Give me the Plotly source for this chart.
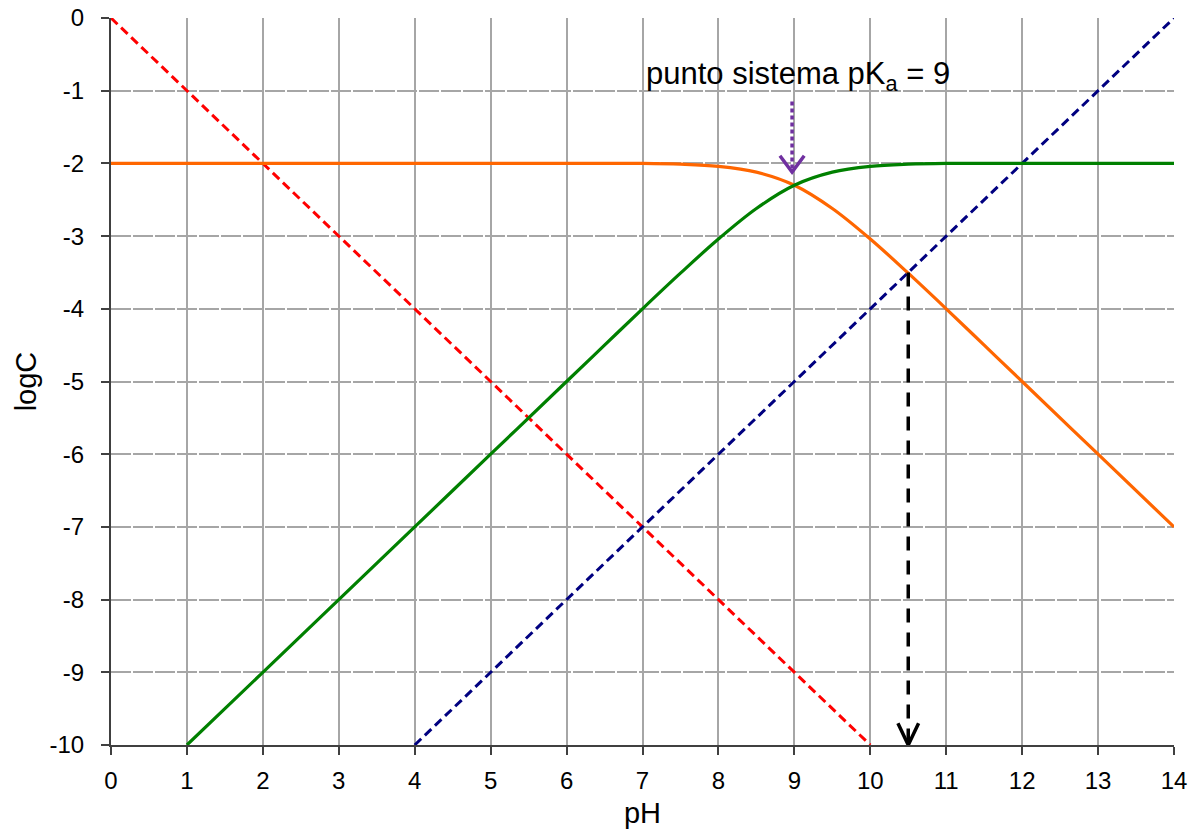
import plotly.graph_objects as go

# ---- data ----
ph_h = [0, 10]
log_h = [0, -10]

ph_oh = [4, 14]
log_oh = [-10, 0]

ph_ha = [0, 1, 2, 3, 4, 5, 6, 7, 7.5, 8, 8.5, 9, 9.5, 10, 10.5, 11, 11.5, 12, 13, 14]
log_ha = [-2, -2, -2, -2, -2, -2, -2, -2.00, -2.01, -2.04, -2.12, -2.30, -2.62, -3.04, -3.51, -4.00, -4.50, -5, -6, -7]

ph_a = [1, 2, 3, 4, 5, 6, 6.5, 7, 7.5, 8, 8.5, 9, 9.5, 10, 10.5, 11, 12, 13, 14]
log_a = [-10, -9, -8, -7, -6, -5.0, -4.50, -4.00, -3.51, -3.04, -2.62, -2.30, -2.12, -2.04, -2.01, -2.00, -2, -2, -2]

x_ticks = list(range(0, 15))
y_ticks = list(range(-10, 1))

label_text = "punto sistema pK<sub>a</sub> = 9"
label_pos = (9.05, -0.80)
sys_arrow_x = 8.97
sys_arrow_from = -1.15
sys_arrow_to = -2.12

ph_arrow_x = 10.5
ph_arrow_from = -3.5
ph_arrow_to = -10

# ---- style ----
FONT = "Liberation Sans, Arial, sans-serif"
head_dx = 0.16
head_dy = 0.25

fig = go.Figure()
fig.add_trace(go.Scatter(x=ph_h, y=log_h, mode="lines",
                         line=dict(color="#FF0000", width=3, dash="9px,5px")))
fig.add_trace(go.Scatter(x=ph_oh, y=log_oh, mode="lines",
                         line=dict(color="#000080", width=3, dash="9px,5px")))
fig.add_trace(go.Scatter(x=ph_ha, y=log_ha, mode="lines", line_shape="spline",
                         line=dict(color="#FF6600", width=3.2)))
fig.add_trace(go.Scatter(x=ph_a, y=log_a, mode="lines", line_shape="spline",
                         line=dict(color="#008000", width=3.2)))

# purple dotted arrow
fig.add_trace(go.Scatter(x=[sys_arrow_x, sys_arrow_x], y=[sys_arrow_from, sys_arrow_to],
                         mode="lines", line=dict(color="#7030A0", width=3.5, dash="4px,3px")))
fig.add_trace(go.Scatter(x=[sys_arrow_x - head_dx, sys_arrow_x, sys_arrow_x + head_dx],
                         y=[sys_arrow_to + head_dy * 0.9, sys_arrow_to, sys_arrow_to + head_dy * 0.9],
                         mode="lines", line=dict(color="#7030A0", width=3.5)))
# black dashed arrow
fig.add_trace(go.Scatter(x=[ph_arrow_x, ph_arrow_x], y=[ph_arrow_from, ph_arrow_to],
                         mode="lines", line=dict(color="#000000", width=3.5, dash="14px,10px")))
fig.add_trace(go.Scatter(x=[ph_arrow_x - head_dx * 0.85, ph_arrow_x, ph_arrow_x + head_dx * 0.85],
                         y=[ph_arrow_to + head_dy * 1.2, ph_arrow_to, ph_arrow_to + head_dy * 1.2],
                         mode="lines", line=dict(color="#000000", width=3.5)))

fig.add_annotation(x=label_pos[0], y=label_pos[1], text=label_text, showarrow=False,
                   font=dict(family=FONT, size=31, color="#000000"))

fig.update_layout(
    width=1194, height=837,
    margin=dict(l=111, r=20, t=18, b=92),
    plot_bgcolor="white", paper_bgcolor="white",
    showlegend=False,
    font=dict(family=FONT, size=24, color="#000000"),
)
fig.update_xaxes(range=[0, 14], tickvals=x_ticks, ticktext=[str(v) for v in x_ticks],
                 tickfont=dict(family=FONT, size=24, color="#000000"),
                 showgrid=True, gridcolor="#A6A6A6", gridwidth=2,
                 showline=True, linecolor="#404040", linewidth=2,
                 ticks="outside", ticklen=8, tickcolor="#404040", tickwidth=1.5,
                 ticklabelstandoff=5, automargin=False,
                 zeroline=False, title=dict(text="pH", font=dict(family=FONT, size=29), standoff=10))
fig.update_yaxes(range=[-10, 0], tickvals=y_ticks, ticktext=[str(v) for v in y_ticks],
                 tickfont=dict(family=FONT, size=24, color="#000000"),
                 showgrid=True, gridcolor="#A6A6A6", gridwidth=2, griddash="20px,2px",
                 showline=True, linecolor="#404040", linewidth=2,
                 ticks="outside", ticklen=8, tickcolor="#404040", tickwidth=1.5,
                 ticklabelstandoff=12, automargin=False,
                 zeroline=False, title=dict(text="logC", font=dict(family=FONT, size=29), standoff=4))

fig.write_html("out.html", config={"displayModeBar": False},
               post_script="document.body.style.margin='0px';")
